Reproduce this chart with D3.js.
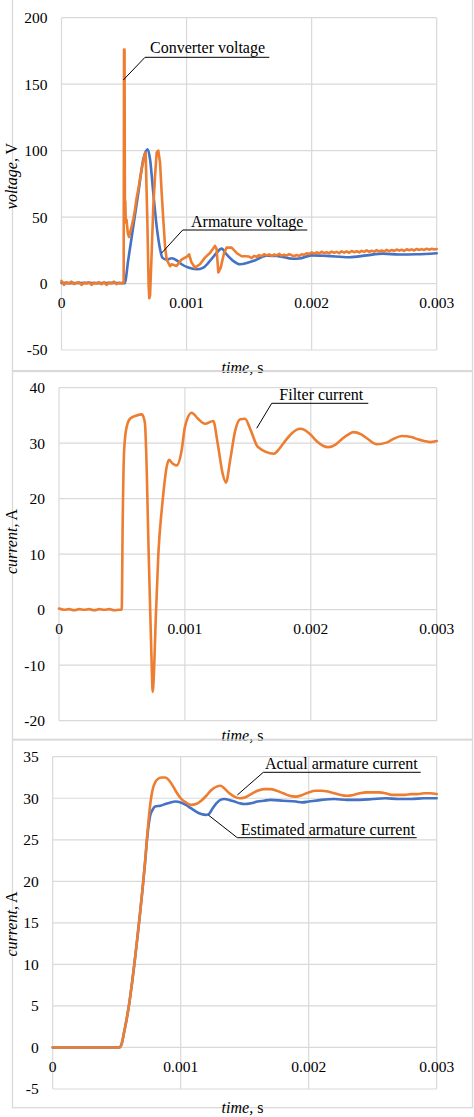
<!DOCTYPE html>
<html><head><meta charset="utf-8">
<script src="https://cdn.jsdelivr.net/npm/d3@7"></script>
<style>
body{margin:0;background:#fff}
svg{display:block}
svg text{font-family:'Liberation Serif','Times New Roman',Times,'DejaVu Serif',serif;fill:#000}
</style>
</head><body>
<svg id="c" width="474" height="1117" font-family="Liberation Serif, Times New Roman, serif"></svg>
<script>
// ---------- data ----------
const xTicks = [0, 0.001, 0.002, 0.003];
const xTickLabels = ["0", "0.001", "0.002", "0.003"];
const yTicksVoltage = [-50, 0, 50, 100, 150, 200];
const yTicksFilter = [-20, -10, 0, 10, 20, 30, 40];
const yTicksArmature = [-5, 0, 5, 10, 15, 20, 25, 30, 35];

// [time s, voltage V]
const converterVoltage = [
 [0,2],[0.00002,-1],[0.00004,1],[0.00006,0],[0.00008,1.5],[0.0001,-0.5],[0.00012,0.5],[0.00014,1],[0.00016,-1],[0.00018,0.5],
 [0.0002,0],[0.00022,1],[0.00024,-1],[0.00026,0.5],[0.00028,0],[0.0003,1],[0.00032,-0.5],[0.00034,1],[0.00036,-1],[0.00038,0.5],
 [0.0004,0],[0.00042,1.5],[0.00044,-0.5],[0.00046,0.5],[0.00048,0],[0.000497,1],
 [0.0005,176],[0.000504,176],[0.000507,55],[0.00051,62],[0.000514,46],[0.00052,48],[0.00053,38],[0.00054,35],
 [0.000561,43],[0.000575,49],[0.000588,56],[0.0006,64],[0.000614,71],[0.000628,79],[0.000641,86],[0.000652,91],[0.000662,96],[0.000673,98.5],
 [0.000686,48],[0.000697,-2],[0.000702,-11],[0.000708,-9],[0.000721,23],[0.000734,58],[0.000748,81],[0.000761,98.5],[0.000774,100],
 [0.000788,91],[0.000801,68],[0.000814,48],[0.000828,28],[0.000841,18],[0.000868,13],[0.00088,14.5],[0.00092,13.2],[0.00096,18],
 [0.001006,20.5],[0.00102,22],[0.00104,15.8],[0.001067,12],[0.001107,14.5],[0.001147,19.5],[0.001187,23],[0.001227,28.3],[0.00124,26],
 [0.001254,8.3],[0.001273,12],[0.0013,23],[0.00132,27],[0.00136,27],[0.0014,23],[0.00144,20.5],[0.00147,20.5],
 [0.0015,20.3],[0.00152,19.2],[0.00154,20.8],[0.00156,20.1],[0.00158,21.4],[0.0016,20.6],[0.00162,22.0],[0.00164,21.2],[0.00166,21.9],[0.00168,20.7],
 [0.0017,21.8],[0.00172,21.1],[0.00174,22.3],[0.00176,21.0],[0.00178,21.7],[0.0018,20.9],[0.00182,22.1],[0.00184,21.3],[0.00186,20.6],[0.00188,21.5],
 [0.0019,20.8],[0.00192,22.0],[0.00194,21.6],[0.00196,22.8],[0.00198,22.2],[0.002,23.4],[0.00202,22.6],[0.00204,23.5],[0.00206,22.7],[0.00208,23.9],
 [0.0021,22.9],[0.00212,23.6],[0.00214,22.8],[0.00216,24.0],[0.00218,23.1],[0.0022,23.8],[0.00222,22.9],[0.00224,24.2],[0.00226,23.3],[0.00228,24.1],
 [0.0023,23.2],[0.00232,24.5],[0.00234,23.6],[0.00236,24.3],[0.00238,23.4],[0.0024,24.6],[0.00242,23.8],[0.00244,25.0],[0.00246,23.9],[0.00248,24.7],
 [0.0025,24.0],[0.00252,25.1],[0.00254,24.2],[0.00256,24.9],[0.00258,24.1],[0.0026,25.3],[0.00262,24.4],[0.00264,25.2],[0.00266,24.5],[0.00268,25.6],
 [0.0027,24.8],[0.00272,25.4],[0.00274,24.6],[0.00276,25.8],[0.00278,25.0],[0.0028,25.7],[0.00282,24.9],[0.00284,26.0],[0.00286,25.2],[0.00288,25.9],
 [0.0029,25.3],[0.00292,26.2],[0.00294,25.5],[0.00296,26.1],[0.00298,25.6],[0.003,26.0]
];

const armatureVoltage = [
 [0,0.5],[0.0001,0.3],[0.0002,0.5],[0.0003,0.3],[0.0004,0.5],[0.000505,0.3],[0.000534,18],[0.000574,43],[0.000614,68],[0.000654,93.5],
 [0.000689,101],[0.000708,93.5],[0.000734,68],[0.000761,43],[0.000788,26],[0.000806,19.5],[0.000841,18],[0.000881,19],[0.000921,17.5],
 [0.00096,14.5],[0.001014,12],[0.001081,10.7],[0.001134,12],[0.001187,17],[0.00124,23],[0.00128,26.3],[0.00132,22],[0.001374,17],
 [0.001427,14.5],[0.001494,15.8],[0.00155,17.5],[0.00164,21],[0.00172,20.8],[0.00185,18.6],[0.0019,18.8],[0.002,21.2],[0.00212,20.8],
 [0.0023,19.8],[0.00244,21.2],[0.00257,22.5],[0.0027,21.8],[0.00284,22],[0.003,22.8]
];

// [time s, current A]
const filterCurrent = [
 [0,0.2],[0.00004,0],[0.00008,0.1],[0.00012,-0.1],[0.00016,0.1],[0.0002,0],[0.00024,0.1],[0.00028,-0.1],[0.00032,0.1],[0.00036,0],
 [0.0004,0.1],[0.00044,-0.1],[0.00048,0],[0.000498,0],[0.000506,16],[0.000516,28],[0.000532,32.3],
 [0.000564,34.4],[0.000617,35],[0.000657,35.2],[0.000675,34.4],[0.000683,33.5],[0.000697,25],[0.000709,13],[0.000723,1],[0.000736,-9.7],
 [0.000744,-14.8],[0.000755,-10.9],[0.000768,-1.9],[0.000789,10],[0.000816,18],[0.000829,21],[0.000855,25.7],[0.000874,27],[0.0009,26.4],
 [0.000935,26],[0.000974,28.7],[0.001,32.9],[0.001054,35.5],[0.0011,34.5],[0.00116,33.5],[0.001225,34],[0.00126,30],[0.0013,24.5],
 [0.001326,22.9],[0.00136,27],[0.0014,32.3],[0.00144,34.3],[0.001477,34.4],[0.00152,32.5],[0.00158,29.3],[0.001708,28.1],[0.00175,29],
 [0.0018,30.5],[0.00185,31.8],[0.001914,32.6],[0.00195,32.4],[0.002,31.5],[0.00205,30.3],[0.0021,29.5],[0.002139,29.3],[0.0022,29.8],
 [0.00225,30.8],[0.0023,31.6],[0.002338,32],[0.0024,31.6],[0.00245,30.8],[0.002523,29.8],[0.0026,30.1],[0.00265,30.7],[0.002722,31.3],
 [0.0028,31.1],[0.00285,30.7],[0.0029,30.4],[0.002947,30.2],[0.003,30.4]
];

const actualArmatureCurrent = [
 [0,0],[0.0002,0],[0.0004,0],[0.00052,0],[0.00054,0.5],[0.00056,2],[0.00058,3.6],[0.0006,5.5],[0.00062,7.8],[0.00064,10.3],[0.00066,13],
 [0.00068,15.8],[0.0007,18.8],[0.00072,22],[0.00074,25.8],[0.00076,29],[0.00078,31],[0.0008,31.9],[0.00082,32.3],[0.00085,32.5],
 [0.00088,32.5],[0.0009,32.3],[0.00093,31.7],[0.00096,30.9],[0.001,30],[0.00104,29.5],[0.00108,29.2],[0.00112,29.3],[0.00116,29.7],
 [0.0012,30.3],[0.00124,31],[0.00128,31.4],[0.00131,31.5],[0.00134,31.2],[0.00138,30.6],[0.00142,30.2],[0.00146,30],[0.0015,30.1],
 [0.00155,30.5],[0.0016,30.9],[0.00165,31.1],[0.0017,31.1],[0.00175,30.9],[0.0018,30.6],[0.00185,30.3],[0.0019,30.2],[0.00195,30.4],
 [0.002,30.7],[0.00205,30.9],[0.0021,30.9],[0.00215,30.8],[0.0022,30.6],[0.00225,30.4],[0.0023,30.3],[0.00235,30.4],[0.0024,30.6],
 [0.00245,30.7],[0.0025,30.7],[0.00255,30.7],[0.0026,30.6],[0.00265,30.4],[0.0027,30.4],[0.00275,30.4],[0.0028,30.5],[0.00285,30.5],
 [0.0029,30.6],[0.00295,30.6],[0.003,30.5]
];

const estimatedArmatureCurrent = [
 [0,0],[0.0002,0],[0.0004,0],[0.00052,0],[0.00054,0.5],[0.00056,2],[0.00058,3.6],[0.0006,5.5],[0.00062,7.8],[0.00064,10.3],[0.00066,13],
 [0.00068,15.8],[0.0007,18.8],[0.00072,22],[0.00074,25.5],[0.00076,27.8],[0.00078,28.6],[0.0008,29],[0.00084,29.1],[0.00088,29.3],
 [0.00092,29.5],[0.00096,29.6],[0.001,29.5],[0.00104,29.2],[0.00108,28.8],[0.00112,28.4],[0.00116,28.1],[0.0012,28],[0.00122,28.1],
 [0.00125,28.8],[0.00128,29.4],[0.00131,29.8],[0.00134,29.9],[0.00138,29.8],[0.00142,29.6],[0.00146,29.4],[0.0015,29.3],[0.00155,29.4],
 [0.0016,29.6],[0.00165,29.7],[0.0017,29.8],[0.0018,29.7],[0.0019,29.6],[0.00195,29.5],[0.002,29.6],[0.0021,29.8],[0.0022,29.9],
 [0.0023,29.8],[0.0024,29.8],[0.0025,29.9],[0.0026,30],[0.0027,29.9],[0.0028,29.9],[0.0029,30],[0.003,30]
];

// ---------- drawing ----------
const ORANGE = "#ED7D31", BLUE = "#4472C4", GRID = "#d9d9d9";
const FONT = "'Liberation Serif','Times New Roman',Times,'DejaVu Serif',serif";
const svg = d3.select("#c");
svg.append("rect").attr("width",474).attr("height",1117).attr("fill","#fff");

const panels = [
 {frame:[12.5,-2,472.5,370.7], plot:{l:61.5,r:436.7,t:17.7,b:350}, yDomain:[-50,200], yTicks:yTicksVoltage,
  yTitle:["voltage,"," V"], yTitleY:176, xTitleY:372.5,
  series:[{data:armatureVoltage,color:BLUE,curve:d3.curveMonotoneX},{data:converterVoltage,color:ORANGE,curve:d3.curveLinear}],
  notes:[{text:"Converter voltage",tx:150,ty:52.8,u1:145,u2:269.3,uy:57.3,lx:123.3,ly:80},
         {text:"Armature voltage",tx:191,ty:226.5,u1:182.7,u2:307.3,uy:230,lx:161.7,ly:253}]},
 {frame:[12.5,371.5,472.5,739.3], plot:{l:59,r:436.7,t:387.7,b:720.7}, yDomain:[-20,40], yTicks:yTicksFilter,
  yTitle:["current,"," A"], yTitleY:541.5, xTitleY:741,
  series:[{data:filterCurrent,color:ORANGE,curve:d3.curveMonotoneX}],
  notes:[{text:"Filter current",tx:279.3,ty:400,u1:271.7,u2:368.3,uy:403.3,lx:256.7,ly:428.3}]},
 {frame:[12.5,740,472.5,1107.7], plot:{l:52.7,r:436.7,t:756.7,b:1089}, yDomain:[-5,35], yTicks:yTicksArmature,
  yTitle:["current,"," A"], yTitleY:924, xTitleY:1112.7,
  series:[{data:estimatedArmatureCurrent,color:BLUE,curve:d3.curveMonotoneX},{data:actualArmatureCurrent,color:ORANGE,curve:d3.curveMonotoneX}],
  notes:[{text:"Actual armature current",tx:265,ty:769,u1:263.3,u2:420.7,uy:772.3,lx:237.3,ly:795},
         {text:"Estimated armature current",tx:240.7,ty:834.5,u1:237.3,u2:416.7,uy:837.7,lx:208.3,ly:815}]}
];

panels.forEach(p => {
  const [fx1,fy1,fx2,fy2] = p.frame;
  svg.append("rect").attr("x",fx1).attr("y",fy1).attr("width",fx2-fx1).attr("height",fy2-fy1)
     .attr("fill","none").attr("stroke",GRID).attr("stroke-width",1.3);

  const x = d3.scaleLinear().domain([0,0.003]).range([p.plot.l,p.plot.r]);
  const y = d3.scaleLinear().domain(p.yDomain).range([p.plot.b,p.plot.t]);
  const g = svg.append("g").attr("font-family",FONT).style("font-family",FONT);

  g.selectAll("line.h").data(p.yTicks).join("line")
   .attr("x1",p.plot.l).attr("x2",p.plot.r).attr("y1",d=>y(d)).attr("y2",d=>y(d))
   .attr("stroke",GRID).attr("stroke-width",1.2);
  g.selectAll("line.v").data(xTicks).join("line")
   .attr("x1",d=>x(d)).attr("x2",d=>x(d)).attr("y1",p.plot.t).attr("y2",p.plot.b)
   .attr("stroke",GRID).attr("stroke-width",1.2);

  g.selectAll("text.yt").data(p.yTicks).join("text")
   .attr("x",p.plot.l-14).attr("y",d=>y(d)).attr("dy","0.35em")
   .attr("text-anchor","end").attr("font-size","15.5px").style("font-family",FONT).text(d=>d);
  g.selectAll("text.xt").data(xTicks).join("text")
   .attr("x",d=>x(d)).attr("y",y(0)+24.5)
   .attr("text-anchor","middle").attr("font-size","15.5px").style("font-family",FONT).text((d,i)=>xTickLabels[i]);

  p.series.forEach(s => {
    const line = d3.line().x(d=>x(d[0])).y(d=>y(d[1])).curve(s.curve);
    g.append("path").datum(s.data).attr("d",line).attr("fill","none")
     .attr("stroke",s.color).attr("stroke-width",2.6).attr("stroke-linejoin","round").attr("stroke-linecap","round");
  });

  p.notes.forEach(n => {
    g.append("line").attr("x1",n.u1).attr("x2",n.u2).attr("y1",n.uy).attr("y2",n.uy).attr("stroke","#000").attr("stroke-width",1);
    g.append("line").attr("x1",n.u1).attr("y1",n.uy).attr("x2",n.lx).attr("y2",n.ly).attr("stroke","#000").attr("stroke-width",1);
    g.append("text").attr("x",n.tx).attr("y",n.ty).attr("font-size","16px").style("font-family",FONT).text(n.text);
  });

  const xt = g.append("text").attr("x",242.5).attr("y",p.xTitleY).attr("text-anchor","middle").attr("font-size","16px").style("font-family",FONT);
  xt.append("tspan").attr("font-style","italic").text("time,");
  xt.append("tspan").text(" s");

  const yt = g.append("text").attr("transform",`translate(17,${p.yTitleY}) rotate(-90)`)
    .attr("text-anchor","middle").attr("font-size","16px").style("font-family",FONT);
  yt.append("tspan").attr("font-style","italic").text(p.yTitle[0]);
  yt.append("tspan").text(p.yTitle[1]);
});
</script>
</body></html>
